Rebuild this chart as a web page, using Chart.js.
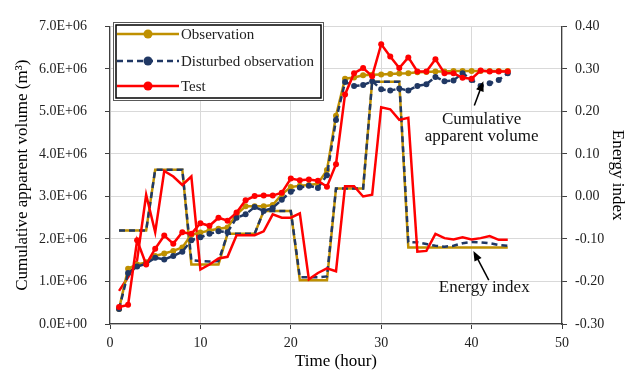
<!DOCTYPE html>
<html>
<head>
<meta charset="utf-8">
<script src="https://cdn.jsdelivr.net/npm/chart.js@4.4.0/dist/chart.umd.min.js"></script>
<style>
  html, body { margin: 0; padding: 0; background: #fff; }
  #wrap { width: 636px; height: 375px; }
</style>
</head>
<body>
<div id="wrap"><canvas id="chart" width="636" height="375"></canvas></div>
<script>
// ---- data ----
const hours = [1, 2, 3, 4, 5, 6, 7, 8, 9, 10, 11, 12, 13, 14, 15, 16, 17, 18, 19, 20, 21, 22,
  23, 24, 25, 26, 27, 28, 29, 30, 31, 32, 33, 34, 35, 36, 37, 38, 39, 40, 41, 42, 43, 44];

const seriesNames = ['Observation', 'Disturbed observation', 'Test'];

// cumulative apparent volume (m3), left axis
const obsVolume = [0.35e6, 1.30e6, 1.40e6, 1.45e6, 1.60e6, 1.66e6, 1.72e6, 1.80e6, 2.10e6, 2.15e6, 2.20e6,
  2.24e6, 2.27e6, 2.58e6, 2.77e6, 2.77e6, 2.77e6, 2.80e6, 3.05e6, 3.22e6, 3.25e6, 3.27e6,
  3.30e6, 3.62e6, 4.90e6, 5.77e6, 5.80e6, 5.85e6, 5.86e6, 5.87e6, 5.88e6, 5.89e6, 5.90e6,
  5.92e6, 5.93e6, 5.94e6, 5.94e6, 5.95e6, 5.95e6, 5.95e6, 5.95e6, 5.95e6, 5.95e6, 5.95e6];
const distVolume = [0.35e6, 1.20e6, 1.35e6, 1.42e6, 1.56e6, 1.52e6, 1.60e6, 1.70e6, 1.97e6, 2.04e6, 2.12e6,
  2.18e6, 2.16e6, 2.50e6, 2.58e6, 2.75e6, 2.66e6, 2.73e6, 2.92e6, 3.11e6, 3.21e6, 3.25e6,
  3.20e6, 3.50e6, 4.80e6, 5.69e6, 5.60e6, 5.62e6, 5.71e6, 5.52e6, 5.49e6, 5.54e6, 5.49e6,
  5.60e6, 5.64e6, 5.81e6, 5.71e6, 5.73e6, 5.90e6, 5.74e6, 5.60e6, 5.66e6, 5.74e6, 5.90e6];
const testVolume = [0.40e6, 0.45e6, 1.97e6, 1.40e6, 1.77e6, 2.08e6, 1.89e6, 2.16e6, 2.12e6, 2.37e6, 2.31e6,
  2.50e6, 2.43e6, 2.62e6, 2.91e6, 3.01e6, 3.02e6, 3.02e6, 3.09e6, 3.42e6, 3.38e6, 3.40e6,
  3.37e6, 3.23e6, 3.76e6, 5.40e6, 5.90e6, 6.02e6, 5.83e6, 6.58e6, 6.29e6, 6.02e6, 6.27e6,
  5.94e6, 5.94e6, 6.23e6, 5.90e6, 5.90e6, 5.79e6, 5.77e6, 5.96e6, 5.94e6, 5.94e6, 5.94e6];

// energy index, right axis
const obsEnergy = [-0.08, -0.08, -0.08, -0.08, 0.063, 0.063, 0.063, 0.063, -0.16, -0.16, -0.16,
  -0.16, -0.088, -0.088, -0.088, -0.088, -0.034, -0.034, -0.034, -0.034, -0.197, -0.197,
  -0.197, -0.197, 0.019, 0.019, 0.019, 0.019, 0.27, 0.27, 0.27, 0.27, -0.12,
  -0.12, -0.12, -0.12, -0.12, -0.12, -0.12, -0.12, -0.12, -0.12, -0.12, -0.12];
const distEnergy = [-0.08, -0.08, -0.08, -0.08, 0.063, 0.063, 0.063, 0.063, -0.15, -0.152, -0.153,
  -0.152, -0.088, -0.088, -0.088, -0.088, -0.034, -0.034, -0.034, -0.034, -0.19, -0.19,
  -0.19, -0.188, 0.019, 0.019, 0.019, 0.019, 0.27, 0.27, 0.27, 0.27, -0.107,
  -0.108, -0.112, -0.116, -0.118, -0.116, -0.11, -0.107, -0.108, -0.11, -0.114, -0.116];
const testEnergy = [-0.222, -0.19, -0.15, 0.004, -0.084, 0.06, 0.047, 0.027, 0.047, -0.172, -0.16,
  -0.146, -0.142, -0.091, -0.091, -0.091, -0.082, -0.042, -0.05, -0.05, -0.04, -0.195,
  -0.18, -0.169, -0.176, 0.024, 0.024, 0.0, 0.004, 0.21, 0.205, 0.18, 0.185,
  -0.13, -0.128, -0.088, -0.098, -0.101, -0.096, -0.101, -0.098, -0.093, -0.102, -0.102];

// ---- styles ----
const GOLD = '#BF9000';
const NAVY = '#203864';
const RED = '#FF0000';
const SERIF = '"Liberation Serif", "Times New Roman", serif';

function pts(vals) {
  return hours.map((h, i) => ({ x: h, y: vals[i] }));
}

// 7.0E+06 style labels
function sciLabel(v) {
  if (v === 0) return '0.0E+00';
  const e = Math.floor(Math.log10(Math.abs(v)) + 1e-9);
  const m = v / Math.pow(10, e);
  return m.toFixed(1) + 'E' + (e < 0 ? '-' : '+') + String(Math.abs(e)).padStart(2, '0');
}

// legend box + text notes with arrows
const notesPlugin = {
  id: 'notes',
  afterDatasetsDraw(chart) {
    const ctx = chart.ctx;
    const sx = chart.scales.x, sy = chart.scales.y, sy2 = chart.scales.y2;
    ctx.save();

    // legend
    const lx = 113, ly = 22, lw = 211, lh = 79;
    ctx.fillStyle = '#fff';
    ctx.fillRect(lx, ly, lw, lh);
    ctx.strokeStyle = '#595959';
    ctx.lineWidth = 1;
    ctx.strokeRect(lx + 0.5, ly + 0.5, lw - 1, lh - 1);
    ctx.strokeStyle = '#000';
    ctx.lineWidth = 1.5;
    ctx.strokeRect(lx + 3, ly + 3, lw - 6, lh - 6);

    const rows = [
      { y: 34, color: GOLD, dash: [] },
      { y: 61, color: NAVY, dash: [6, 4] },
      { y: 86, color: RED, dash: [] }
    ];
    ctx.font = '15px ' + SERIF;
    ctx.textBaseline = 'middle';
    ctx.textAlign = 'left';
    rows.forEach((r, i) => {
      ctx.strokeStyle = r.color;
      ctx.lineWidth = 2.5;
      ctx.setLineDash(r.dash);
      ctx.beginPath();
      ctx.moveTo(117, r.y);
      ctx.lineTo(179, r.y);
      ctx.stroke();
      ctx.setLineDash([]);
      ctx.fillStyle = r.color;
      ctx.beginPath();
      ctx.arc(148, r.y, 4.5, 0, Math.PI * 2);
      ctx.fill();
      ctx.fillStyle = '#222';
      ctx.fillText(seriesNames[i], 181, r.y + 1);
    });

    // annotations
    function arrow(x1, y1, x2, y2) {
      const a = Math.atan2(y2 - y1, x2 - x1);
      ctx.strokeStyle = '#000';
      ctx.fillStyle = '#000';
      ctx.lineWidth = 1.5;
      ctx.beginPath();
      ctx.moveTo(x1, y1);
      ctx.lineTo(x2 - 6 * Math.cos(a), y2 - 6 * Math.sin(a));
      ctx.stroke();
      ctx.beginPath();
      ctx.moveTo(x2, y2);
      ctx.lineTo(x2 - 10 * Math.cos(a) + 4 * Math.sin(a), y2 - 10 * Math.sin(a) - 4 * Math.cos(a));
      ctx.lineTo(x2 - 10 * Math.cos(a) - 4 * Math.sin(a), y2 - 10 * Math.sin(a) + 4 * Math.cos(a));
      ctx.closePath();
      ctx.fill();
    }

    ctx.font = '17px ' + SERIF;
    ctx.textAlign = 'center';
    ctx.fillStyle = '#111';
    const cx = sx.getPixelForValue(41.1);
    ctx.fillText('Cumulative', cx, sy.getPixelForValue(4.8e6));
    ctx.fillText('apparent volume', cx, sy.getPixelForValue(4.4e6));
    arrow(sx.getPixelForValue(40.3), sy.getPixelForValue(5.14e6),
          sx.getPixelForValue(41.3), sy.getPixelForValue(5.71e6));

    ctx.fillStyle = '#111';
    ctx.fillText('Energy index', sx.getPixelForValue(41.4), sy2.getPixelForValue(-0.215));
    arrow(sx.getPixelForValue(41.9), sy2.getPixelForValue(-0.197),
          sx.getPixelForValue(40.2), sy2.getPixelForValue(-0.128));

    ctx.restore();
  }
};

const tickFont = { family: SERIF, size: 14 };
const titleFont = { family: SERIF, size: 17 };

new Chart(document.getElementById('chart'), {
  type: 'line',
  data: {
    datasets: [
      // energy index (no markers)
      { label: 'Observation EI', data: pts(obsEnergy), yAxisID: 'y2', borderColor: GOLD,
        borderWidth: 2.5, pointRadius: 0, order: 6 },
      { label: 'Disturbed EI', data: pts(distEnergy), yAxisID: 'y2', borderColor: NAVY,
        borderWidth: 2.5, borderDash: [6, 4], pointRadius: 0, order: 5 },
      { label: 'Test EI', data: pts(testEnergy), yAxisID: 'y2', borderColor: RED,
        borderWidth: 2.5, pointRadius: 0, order: 4 },
      // cumulative apparent volume (with markers)
      { label: seriesNames[0], data: pts(obsVolume), yAxisID: 'y', borderColor: GOLD,
        backgroundColor: GOLD, borderWidth: 2.5, pointRadius: 3, pointBorderWidth: 0, order: 3 },
      { label: seriesNames[1], data: pts(distVolume), yAxisID: 'y', borderColor: NAVY,
        backgroundColor: NAVY, borderWidth: 2.5, borderDash: [6, 4], pointRadius: 3,
        pointBorderWidth: 0, order: 2 },
      { label: seriesNames[2], data: pts(testVolume), yAxisID: 'y', borderColor: RED,
        backgroundColor: RED, borderWidth: 2.5, pointRadius: 3, pointBorderWidth: 0, order: 1 }
    ]
  },
  options: {
    responsive: false,
    animation: false,
    layout: { padding: { top: 19, right: 0, bottom: 0, left: 0 } },
    plugins: {
      legend: { display: false },
      tooltip: { enabled: false }
    },
    scales: {
      x: {
        type: 'linear', min: 0, max: 50,
        ticks: { stepSize: 10, font: tickFont, color: '#222', padding: 6, maxRotation: 0 },
        grid: { color: '#d9d9d9', tickColor: '#404040', tickLength: 5 },
        border: { color: '#404040', width: 1.2 },
        title: { display: true, text: 'Time (hour)', font: titleFont, color: '#000',
                 padding: { top: 0, bottom: 3 } },
        afterFit(s) { s.height = 51; }
      },
      y: {
        position: 'left', min: 0, max: 7e6,
        ticks: { stepSize: 1e6, font: tickFont, color: '#222', padding: 18, callback: v => sciLabel(v) },
        grid: { color: '#d9d9d9', tickColor: '#404040', tickLength: 5 },
        border: { color: '#404040', width: 1.2 },
        title: { display: true, text: 'Cumulative apparent volume (m³)', font: titleFont, color: '#000',
                 padding: { top: 12, bottom: 0 } },
        afterFit(s) { s.width = 110; }
      },
      y2: {
        position: 'right', min: -0.3, max: 0.4,
        ticks: { stepSize: 0.1, font: tickFont, color: '#222', padding: 8,
                 callback: v => (Math.abs(v) < 1e-9 ? 0 : v).toFixed(2) },
        grid: { drawOnChartArea: false, tickColor: '#404040', tickLength: 5 },
        border: { color: '#404040', width: 1.2 },
        title: { display: true, text: 'Energy index', font: titleFont, color: '#000',
                 padding: { top: 8, bottom: 0 } },
        afterFit(s) { s.width = 74; }
      }
    }
  },
  plugins: [notesPlugin]
});
</script>
</body>
</html>
